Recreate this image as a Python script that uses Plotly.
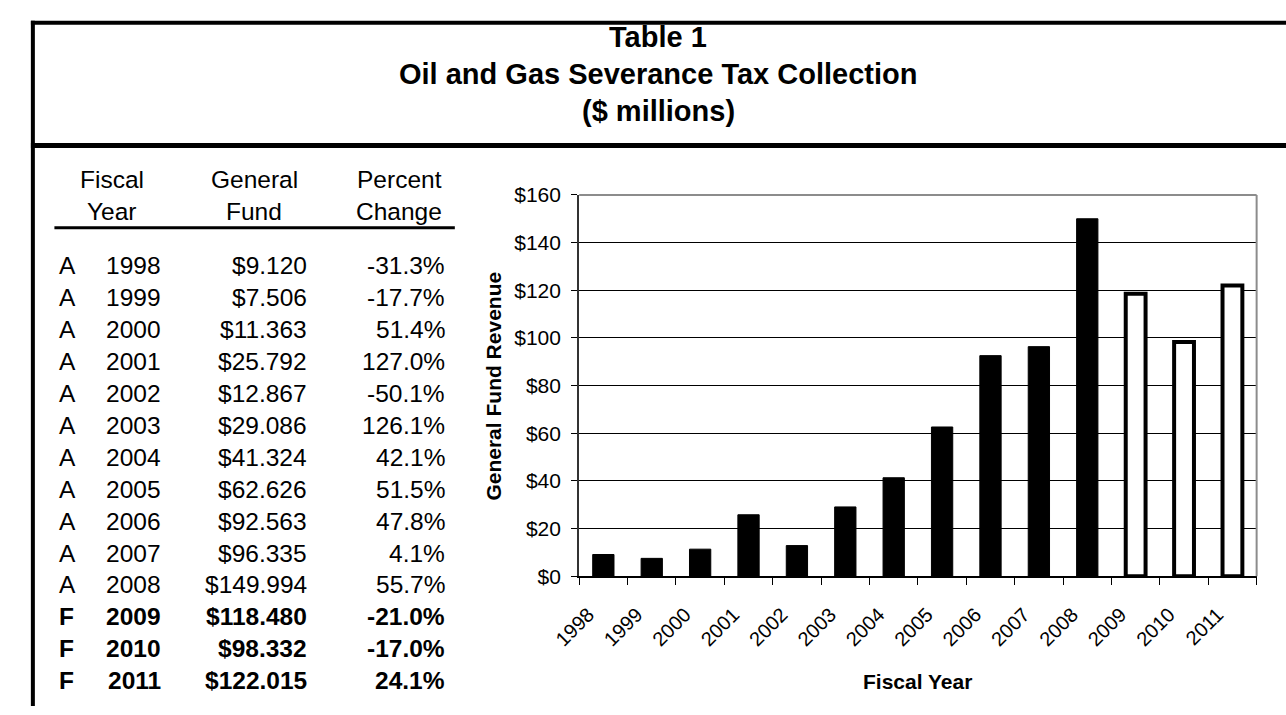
import plotly.graph_objects as go

# ---------------- data ----------------
years = ["1998", "1999", "2000", "2001", "2002", "2003", "2004",
         "2005", "2006", "2007", "2008", "2009", "2010", "2011"]
status = ["A", "A", "A", "A", "A", "A", "A", "A", "A", "A", "A", "F", "F", "F"]
general_fund = [9.120, 7.506, 11.363, 25.792, 12.867, 29.086, 41.324,
                62.626, 92.563, 96.335, 149.994, 118.480, 98.332, 122.015]
pct_change = [-31.3, -17.7, 51.4, 127.0, -50.1, 126.1, 42.1,
              51.5, 47.8, 4.1, 55.7, -21.0, -17.0, 24.1]
y_ticks = [0, 20, 40, 60, 80, 100, 120, 140, 160]
title_lines = ["Table 1", "Oil and Gas Severance Tax Collection", "($ millions)"]

# ---------------- layout helpers ----------------
W, H = 1286, 715
FONT = "Liberation Sans, Arial, Helvetica, sans-serif"


def px(x):
    return x / W


def py(y):
    return 1 - y / H


fig = go.Figure()

# bars: actual = solid black, forecast = white with heavy outline
fill = ["black" if s == "A" else "white" for s in status]
lw = [1 if s == "A" else 4 for s in status]
widths = [0.44 if s == "A" else 0.41 for s in status]
fig.add_trace(go.Bar(
    x=years, y=general_fund,
    marker=dict(color=fill, line=dict(color="black", width=lw)),
    width=widths,
    hovertemplate="%{x}: $%{y:.3f}<extra></extra>",
    showlegend=False,
))

plot_l, plot_r, plot_t, plot_b = 564, 1256, 189, 583

annotations = []
# titles
for txt, yc in zip(title_lines, [26, 64, 102]):
    annotations.append(dict(x=px(645), y=py(yc), xref="paper", yref="paper",
                            text="<b>%s</b>" % txt, showarrow=False,
                            xanchor="center", yanchor="middle",
                            font=dict(family=FONT, size=29, color="black")))

TF = 24.5
# table headers
hdr = [("Fiscal", "Year", 87), ("General", "Fund", 232), ("Percent", "Change", 380)]
for a, b, xc in hdr:
    annotations.append(dict(x=px(xc), y=py(173), xref="paper", yref="paper", text=a,
                            showarrow=False, xanchor="center", yanchor="middle",
                            font=dict(family=FONT, size=TF, color="black")))
    annotations.append(dict(x=px(xc), y=py(206), xref="paper", yref="paper", text=b,
                            showarrow=False, xanchor="center", yanchor="middle",
                            font=dict(family=FONT, size=TF, color="black")))

# table rows
row0, step = 262, 33.0
for i, (yr, st, v, p) in enumerate(zip(years, status, general_fund, pct_change)):
    yc = row0 + i * step
    bold = st == "F"
    cells = [
        (st, 31, "left"),
        (yr, 139, "right"),
        ("$%.3f" % v, 288, "right"),
        ("%.1f%%" % p, 429, "right"),
    ]
    for txt, xx, anc in cells:
        annotations.append(dict(x=px(xx), y=py(yc), xref="paper", yref="paper",
                                text=("<b>%s</b>" % txt) if bold else txt,
                                showarrow=False, xanchor=anc, yanchor="middle",
                                font=dict(family=FONT, size=TF, color="black")))

# axis titles
annotations.append(dict(x=px(477), y=py((plot_t + plot_b) / 2), xref="paper", yref="paper",
                        text="<b>General Fund Revenue</b>", textangle=-90, showarrow=False,
                        xanchor="center", yanchor="middle",
                        font=dict(family=FONT, size=21, color="black")))
annotations.append(dict(x=px((plot_l + plot_r) / 2), y=py(692), xref="paper", yref="paper",
                        text="<b>Fiscal Year</b>", showarrow=False,
                        xanchor="center", yanchor="middle",
                        font=dict(family=FONT, size=21, color="black")))

shapes = [
    # outer frame
    dict(type="line", xref="paper", yref="paper", x0=px(4), x1=px(W + 2), y0=py(11), y1=py(11),
         line=dict(color="black", width=4)),
    dict(type="line", xref="paper", yref="paper", x0=px(6), x1=px(6), y0=py(9), y1=py(H + 2),
         line=dict(color="black", width=4)),
    dict(type="line", xref="paper", yref="paper", x0=px(4), x1=px(W + 2), y0=py(138), y1=py(138),
         line=dict(color="black", width=5)),
    # header underline
    dict(type="line", xref="paper", yref="paper", x0=px(28), x1=px(437), y0=py(223), y1=py(223),
         line=dict(color="black", width=3)),
    # plot area top & right border
    dict(type="line", xref="paper", yref="paper", x0=px(plot_l), x1=px(plot_r), y0=py(plot_t), y1=py(plot_t),
         line=dict(color="#8c8c8c", width=2)),
    dict(type="line", xref="paper", yref="paper", x0=px(plot_r), x1=px(plot_r), y0=py(plot_t), y1=py(plot_b),
         line=dict(color="#8c8c8c", width=2)),
]

fig.update_layout(
    width=W, height=H, autosize=False,
    margin=dict(l=0, r=0, t=0, b=0, pad=0),
    paper_bgcolor="white", plot_bgcolor="white",
    font=dict(family=FONT, color="black"),
    annotations=annotations, shapes=shapes,
    xaxis=dict(domain=[px(plot_l), px(plot_r)], type="category",
               showline=True, linecolor="black", linewidth=1.5,
               ticks="outside", tickson="boundaries", ticklen=7, tickcolor="black", tickwidth=1,
               tickangle=-45, tickfont=dict(family=FONT, size=20, color="black"),
               ticklabelstandoff=17, ticklabelshift=-15,
               showgrid=False, zeroline=False, fixedrange=True),
    yaxis=dict(domain=[py(plot_b), py(plot_t)], range=[0, 160],
               tickmode="array", tickvals=y_ticks, ticktext=["$%d" % t for t in y_ticks],
               showline=True, linecolor="#333333", linewidth=2,
               ticks="outside", ticklen=6, tickcolor="black", tickwidth=1,
               tickfont=dict(family=FONT, size=21, color="black"),
               ticklabelstandoff=6,
               showgrid=True, gridcolor="black", gridwidth=1, zeroline=False, fixedrange=True),
)

fig.write_html("out.html", config={"displayModeBar": False},
               post_script="document.body.style.margin='0px';document.body.style.overflow='hidden';")
